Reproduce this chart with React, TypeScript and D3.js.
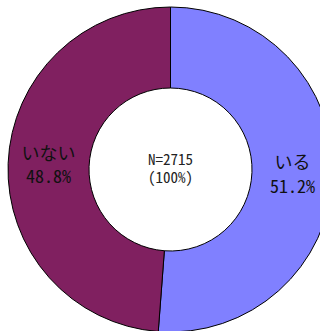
import React from "react";
import * as d3 from "d3";

const categories = ["いる", "いない"];
const values = [51.2, 48.8];
const colors = ["#8080FF", "#802060"];
const centerLines = ["N=2715", "(100%)"];

export default function App() {
  const width = 320;
  const height = 331;
  const cx = 170.5;
  const cy = 169.5;
  const outerR = 162.5;
  const innerR = 81.5;

  const pie = d3.pie<number>().sort(null).value((d) => d);
  const arcs = pie(values);
  const arc = d3.arc<d3.PieArcDatum<number>>().innerRadius(innerR).outerRadius(outerR);
  const font = "'Noto Sans CJK JP', 'Noto Sans', sans-serif";
  const feat = { fontFeatureSettings: "'hwid' 1" } as React.CSSProperties;

  return (
    <svg
      width={width}
      height={height}
      style={{ position: "absolute", left: 0, top: 0, background: "#fff" }}
    >
      <g transform={`translate(${cx},${cy})`}>
        {arcs.map((a, i) => (
          <path key={i} d={arc(a) || ""} fill={colors[i]} stroke="#000" strokeWidth={1} />
        ))}
        {arcs.map((a, i) => {
          const [x, y] = arc.centroid(a);
          return (
            <text key={"t" + i} x={x} y={y} textAnchor="middle" fontFamily={font} fontSize={18} fill="#111" style={feat}>
              <tspan x={x} dy={-5}>{categories[i]}</tspan>
              <tspan x={x} dy={23.5}>{values[i].toFixed(1) + "%"}</tspan>
            </text>
          );
        })}
        <text textAnchor="middle" fontFamily={font} fontSize={15} fill="#222" style={feat}>
          <tspan x={0} y={-4.5}>{centerLines[0]}</tspan>
          <tspan x={0} y={13.5}>{centerLines[1]}</tspan>
        </text>
      </g>
    </svg>
  );
}
